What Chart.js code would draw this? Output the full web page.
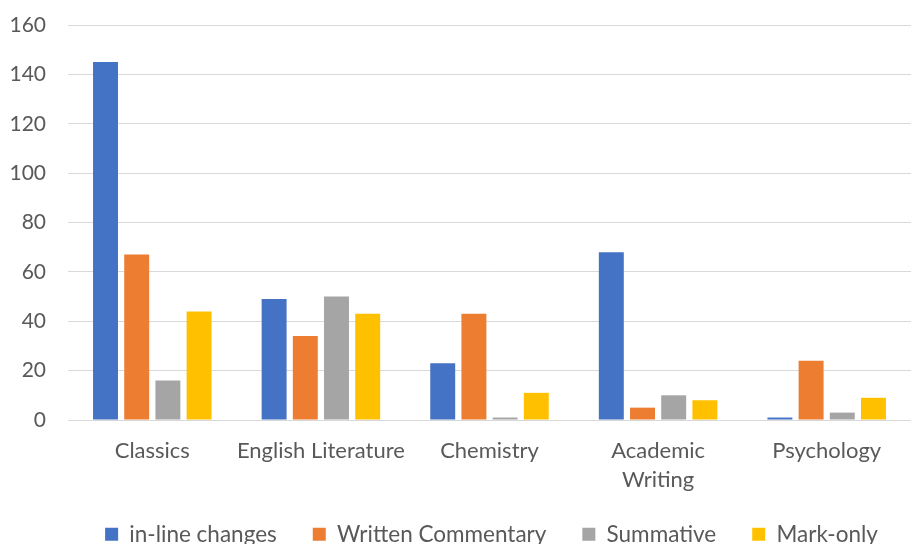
<!DOCTYPE html>
<html>
<head>
<meta charset="utf-8">
<script src="https://cdn.jsdelivr.net/npm/chart.js@4.4.1/dist/chart.umd.min.js"></script>
<style>
	body{margin:0;background:#fff;}
	#wrap{width:911px;height:544px;overflow:hidden;}
</style>
</head>
<body>
<div id="wrap"><canvas id="chart" width="911" height="544"></canvas></div>
<script>
var subjects=["Classics","English Literature","Chemistry",["Academic","Writing"],"Psychology"];
var inlineChanges=[145,49,23,68,1];
var writtenCommentary=[67,34,43,5,24];
var summative=[16,50,1,10,3];
var markOnly=[44,43,11,8,9];
var yTicks=[0,20,40,60,80,100,120,140,160];

var textColor="#595959";
var gridColor="#d9d9d9";
Chart.defaults.font.family="Lato, 'Liberation Sans', sans-serif";
Chart.defaults.color=textColor;

var xAxisHeight=73;
var legendHeight=51;
var legendTop=487;
var legendOffsetX=36;

function series(label,data,color){
	return {label:label,data:data,backgroundColor:color,borderWidth:0,
		categoryPercentage:0.74,barPercentage:0.8};
}

// the legend row hangs off the bottom edge: give it a fixed height, then place it by hand
var legendShift={
	id:"legendShift",
	beforeLayout:function(chart){
		var lg=chart.legend;
		if(lg&&!lg._fixedFit){
			var fit=lg.fit;
			lg.fit=function(){
				fit.call(this);
				this.height=legendHeight;
			};
			lg._fixedFit=true;
		}
	},
	afterLayout:function(chart){
		var lg=chart.legend;
		lg.top=legendTop;
		lg.bottom=chart.height+20;
		lg.height=lg.bottom-lg.top;
		lg.left+=legendOffsetX;
		lg.right+=legendOffsetX;
	}
};

new Chart("chart",{
	type:"bar",
	data:{
		labels:subjects,
		datasets:[
			series("in-line changes",inlineChanges,"#4472C4"),
			series("Written Commentary",writtenCommentary,"#ED7D31"),
			series("Summative",summative,"#A5A5A5"),
			series("Mark-only",markOnly,"#FFC000")
		]
	},
	plugins:[legendShift],
	options:{
		responsive:false,
		animation:false,
		layout:{padding:{top:25,right:0,left:0,bottom:0}},
		plugins:{
			tooltip:{enabled:false},
			legend:{
				position:"bottom",
				labels:{font:{size:22.5,lineHeight:1},boxWidth:13,boxHeight:13,padding:36,color:textColor}
			}
		},
		scales:{
			x:{
				grid:{display:false},
				border:{color:gridColor,width:1},
				afterFit:function(axis){axis.height=xAxisHeight;},
				ticks:{font:{size:22,lineHeight:1.3},padding:9,color:textColor,maxRotation:0,autoSkip:false}
			},
			y:{
				min:0,max:160,
				afterBuildTicks:function(axis){axis.ticks=yTicks.map(function(v){return {value:v};});},
				afterFit:function(axis){axis.width=68;axis.paddingTop=0;axis.paddingBottom=0;},
				grid:{color:gridColor,lineWidth:1,drawTicks:false},
				border:{display:false},
				ticks:{font:{size:21},padding:22,color:textColor}
			}
		}
	}
});
</script>
</body>
</html>
